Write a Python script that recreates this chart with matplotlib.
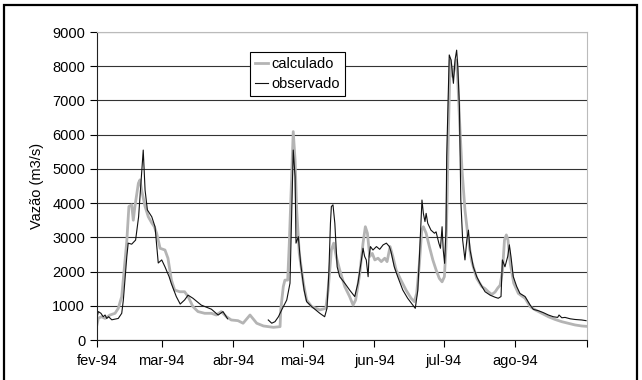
import numpy as np
import matplotlib
matplotlib.use("Agg")
import matplotlib.pyplot as plt
from matplotlib.patches import Rectangle

plt.rcParams['font.family'] = ['Liberation Sans', 'DejaVu Sans']

# days counted from 1 feb 1994
month_days = [0, 28, 59, 89, 120, 150, 181, 212]
month_labels = ['fev-94', 'mar-94', 'abr-94', 'mai-94', 'jun-94', 'jul-94', 'ago-94', '']

obs_day = [0, 0.6, 1.7, 2.7, 3.5, 4.2, 5, 6.4, 9.2, 10.7, 11.4, 12.1, 12.9, 13.5, 15, 16.7,
           18, 19.3, 20.0, 20.8, 21.8, 23.7, 25.1, 26.5, 28, 29.4, 31.2, 32.1, 34.3, 36, 37.9,
           39.4, 41.5, 45.1, 49.5, 52.4, 54.5, 56.5, 65,
           74.1, 75.6, 77, 78.5, 79.9, 82.1, 83.5, 84.2, 84.9, 85.7, 86.1, 87.1, 88.1, 89.6,
           90.7, 92.9, 96.4, 98.5, 99.5, 100.3, 101, 101.4, 102.1, 102.9, 103.9, 105, 107.2,
           109.3, 111.5, 112.9, 114.4, 115.1, 115.8, 116.5, 117.3, 117.7, 118.3, 119.4, 120.9,
           122.3, 123.8, 125.2, 126.5, 127.2, 128.6, 130.1, 132.3, 134.4, 136.6, 137.7, 138.8,
           139.5, 140.2, 140.6, 141.2, 141.9, 142.4, 143.1, 144.5, 146, 146.7, 147.9, 148.6,
           149.3, 149.8, 150.4, 151, 151.3, 152, 152.4, 153.2, 154.2, 154.9, 155.6, 156.1,
           156.8, 157.4, 158.2, 159.2, 160, 160.7, 161.4, 162.8, 164.3, 165.7, 167.9, 170.1,
           172.2, 173.6, 174.8, 175.4, 176.5, 177.7, 178.4, 179.1, 180.1, 181.6, 183, 185.2,
           187.4, 188.8, 191, 193.1, 195.3, 197.4, 199.3, 199.9, 201.1, 202.5, 204.7, 206.8,
           209.7, 211.6]
obs_val = [650, 830, 780, 680, 730, 630, 680, 590, 630, 780, 1170, 1750, 2440, 2830, 2800, 2920,
           3600, 4880, 5550, 4380, 3800, 3600, 3310, 2250, 2340, 2140, 1850, 1660, 1270, 1050, 1170,
           1310, 1220, 1020, 900, 730, 830, 620, np.nan,
           585, 490, 535, 680, 880, 1170, 1660, 3600, 5550, 4770, 2830, 3020, 2240, 1460,
           1120, 975, 780, 680, 925, 1950, 3410, 3900, 3950, 3410, 2140, 1850, 1660,
           1460, 1270, 1660, 2340, 2680, 2440, 2340, 1850, 2440, 2730, 2630, 2730,
           2650, 2780, 2830, 2730, 2580, 2140, 1850, 1460, 1220, 1020, 925, 1460,
           2440, 3510, 4090, 3700, 3460, 3700, 3410, 3210, 3120, 3160, 2830, 2680,
           3310, 2630, 2240, 3210, 5360, 7300, 8330, 8180, 7500, 8180, 8470, 7990,
           6820, 4090, 2920, 2340, 2920, 3210, 2630, 2140, 1850, 1660, 1410, 1310,
           1250, 1220, 1270, 2340, 2140, 2440, 2780, 2440, 1850, 1560, 1360, 1270,
           1020, 895, 855, 800, 730, 680, 660, 730, 650, 660, 620, 600,
           585, 565]

calc_day = [0, 0.6, 2, 3.5, 5.6, 7.8, 9.2, 10.7, 12.9, 13.8, 15, 15.7, 16.4, 17.9, 18.6, 19.3,
            20.8, 22.2, 23.7, 24.8, 25.8, 27.3, 29.4, 30.7, 32.2, 33.6, 35.8, 37.9, 39.4, 41.5,
            43.7, 46.6, 49.5, 51.6, 53.8, 56, 58.1, 61, 63.2, 66.2, 69.1, 72, 76.3, 79.2, 79.5,
            80.6, 81.3, 82.5, 83.2, 84.2, 84.9, 85.7, 86.4, 87.5, 89.3, 90.7, 92.9, 96.4, 99,
            100, 101.4, 102.4, 103.5, 105, 107.2, 109.3, 110.8, 111.9, 113.7, 115.1, 116.1, 117,
            118, 119.1, 120.2, 121.6, 123, 124.5, 125.5, 126.8, 128, 129.4, 131.5, 133.7, 135.9,
            137.3, 138.3, 139.5, 140.5, 141.2, 142.4, 143.8, 145.3, 146.7, 148.1, 149.3, 150.3,
            151, 151.5, 152, 152.8, 153.9, 154.8, 155.6, 156.1, 156.8, 157.9, 159.2, 160.7,
            162.1, 164.3, 166.5, 167.9, 169.3, 170.8, 172.2, 173.4, 174.4, 175.4, 176.3, 177.1,
            177.8, 178.8, 180.3, 182.3, 185.2, 187.4, 189.6, 192.4, 195.3, 198.2, 201.1, 204.1,
            206.8, 209.7, 211.6]
calc_val = [450, 640, 680, 630, 730, 780, 925, 1270, 2900, 3900, 3950, 3500, 3900, 4580, 4680, 4380,
            3900, 3600, 3420, 3310, 3120, 2680, 2630, 2390, 1750, 1460, 1410, 1410, 1270, 975,
            830, 780, 780, 730, 830, 680, 585, 565, 490, 730, 490, 410, 370, 390, 880,
            1560, 1750, 1750, 2830, 4770, 6090, 5260, 3800, 2540, 1660, 1170, 975, 880, 925,
            1460, 2630, 2830, 2440, 2050, 1560, 1270, 1020, 1170, 1950, 2830, 3310, 3120,
            2440, 2530, 2340, 2390, 2290, 2390, 2290, 2730, 2440, 2050, 1750, 1460, 1220,
            1120, 1360, 2240, 3210, 3310, 3120, 2730, 2340, 2050, 1800, 1700, 1850,
            2730, 4190, 6000, 8180, 7700, 7990, 8180, 7600, 6500, 5000, 3800, 2900,
            2300, 1800, 1560, 1500, 1410, 1330, 1400, 1520, 1600, 2000, 2920, 3070,
            2920, 2240, 1660, 1360, 1220, 975, 880, 780, 680, 600, 535, 485,
            440, 410, 400]

fig = plt.figure(figsize=(6.42, 3.80), dpi=100)
ax = fig.add_axes([97/642, 1 - 340/380, 490/642, 308/380])

ax.plot(calc_day, calc_val, color='#b4b4b4', lw=2.0, label='calculado')
ax.plot(obs_day, obs_val, color='#111111', lw=0.8, label='observado')

ax.set_xlim(0, 212)
ax.set_ylim(0, 9000)
ax.set_yticks(range(0, 9001, 1000))
ax.set_xticks(month_days)
ax.set_xticklabels(month_labels)
ax.yaxis.grid(True, color='#333333', lw=0.8)
ax.set_axisbelow(True)
ax.tick_params(direction='out', length=5, width=0.8, labelsize=10.5, colors='black')
ax.tick_params(axis='x', pad=5)

for s in ['top', 'right']:
    ax.spines[s].set_color('#bbbbbb')
for s in ['left', 'bottom']:
    ax.spines[s].set_color('#222222')
    ax.spines[s].set_linewidth(0.8)

ax.set_ylabel('Vazão (m3/s)', fontsize=10.5, labelpad=6)

leg = ax.legend(loc='upper left', bbox_to_anchor=((250-97)/490, (340-52)/308),
                fontsize=10.5, frameon=True, fancybox=False, handlelength=0.9,
                handletextpad=0.25, borderpad=0.35, labelspacing=0.4, borderaxespad=0)
leg.get_frame().set_edgecolor('black')
leg.get_frame().set_linewidth(0.8)
leg.get_frame().set_alpha(1)

fig.patches.append(Rectangle((4/642, -0.05), 633/642, 1.05 - 5/380, transform=fig.transFigure,
                             fill=False, edgecolor='black', lw=1.6))

fig.savefig('out.png', dpi=100)
